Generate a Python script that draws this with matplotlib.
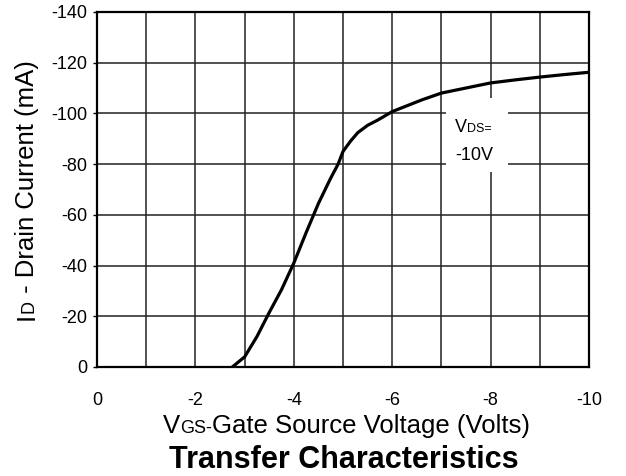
import matplotlib.pyplot as plt
from matplotlib.patches import Rectangle

plt.rcParams['font.family'] = ['Liberation Sans', 'DejaVu Sans']

# Curva de transferencia (VDS = -10V)
vgs = [-2.75, -3.0, -3.25, -3.5, -3.75, -4.0, -4.25, -4.5, -4.75, -4.9, -5.0,
       -5.15, -5.3, -5.5, -5.7, -6.0, -6.3, -6.6, -7.0, -7.5, -8.0, -8.5,
       -9.0, -9.5, -10.0]
id_ma = [0, -4, -12, -21.5, -30.5, -41, -53, -64.5, -74.5, -80, -85,
         -89, -92.4, -95.3, -97.3, -100.7, -103, -105.3, -108, -110, -112, -113.2,
         -114.3, -115.3, -116.2]

x_ticks = [0, -1, -2, -3, -4, -5, -6, -7, -8, -9, -10]
x_labels = ['0', '', '-2', '', '-4', '', '-6', '', '-8', '', '-10']
y_ticks = [0, -20, -40, -60, -80, -100, -120, -140]
y_labels = ['0', '-20', '-40', '-60', '-80', '-100', '-120', '-140']

DESC = 0.21  # descida da fonte (fracao do tamanho)

fig = plt.figure(figsize=(6.26, 4.76), dpi=100)
ax = fig.add_axes([0.155, 0.229, 0.786, 0.746])

ax.plot(vgs, id_ma, color='black', linewidth=2.3, zorder=3)

ax.set_xlim(0, -10)
ax.set_ylim(0, -140)
ax.set_xticks(x_ticks)
ax.set_xticklabels(x_labels, fontsize=13)
ax.set_yticks(y_ticks)
ax.set_yticklabels(y_labels, fontsize=13)
ax.tick_params(axis='x', length=0, pad=18)
ax.tick_params(axis='y', length=3, width=1, pad=4)

ax.set_axisbelow(True)
ax.grid(True, color='#222222', linewidth=1.1)
for s in ax.spines.values():
    s.set_linewidth(1.6)

# caixa branca atras do rotulo VDS
ax.add_patch(Rectangle((-7.1, -77), -1.25, -29, facecolor='white',
                       edgecolor='none', zorder=1))
t1 = ax.text(-7.28, -92.7, 'V', fontsize=13, ha='left', va='baseline', zorder=4)
ax.annotate('DS=', xy=(1, 0), xycoords=t1, xytext=(0, DESC * 13),
            textcoords='offset points', fontsize=9, ha='left', va='baseline', zorder=4)
ax.text(-7.28, -81.7, '-10V', fontsize=13, ha='left', va='baseline', zorder=4)

# rotulo eixo x (V grande, GS pequeno)
big, small = 18.5, 13
xl = fig.text(0.260, 0.0903, 'V', fontsize=big, ha='left', va='baseline')
xl2 = ax.annotate('GS-', xy=(1, 0), xycoords=xl, xytext=(0, DESC * big),
                  textcoords='offset points', fontsize=small, ha='left', va='baseline')
ax.annotate('Gate Source Voltage (Volts)', xy=(1, 0), xycoords=xl2,
            xytext=(0, DESC * small), textcoords='offset points', fontsize=big,
            ha='left', va='baseline')

# rotulo eixo y (I grande, D pequeno)
yl = fig.text(0.062, 0.328, 'I', fontsize=big, rotation=90, ha='right', va='bottom')
yl2 = ax.annotate('D', xy=(1, 1), xycoords=yl, xytext=(-DESC * (big - small), 0),
                  textcoords='offset points', fontsize=small, rotation=90,
                  ha='right', va='bottom')
ax.annotate(' - Drain Current (mA)', xy=(1, 1), xycoords=yl2,
            xytext=(DESC * (big - small), 0), textcoords='offset points',
            fontsize=big, rotation=90, ha='right', va='bottom')

fig.text(0.549, 0.017, 'Transfer Characteristics', fontsize=22, fontweight='bold',
         ha='center', va='baseline')

fig.savefig('out.png', dpi=100)
